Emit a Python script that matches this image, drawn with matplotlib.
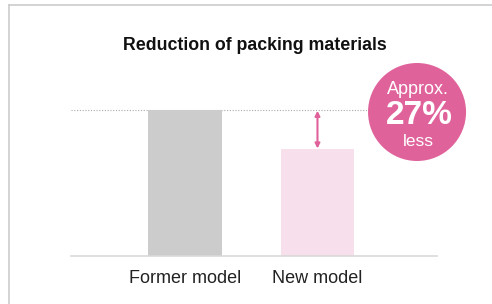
import numpy as np
import matplotlib
matplotlib.use("Agg")
import matplotlib.pyplot as plt
from matplotlib.patches import Ellipse
from matplotlib.lines import Line2D

plt.rcParams['font.family'] = ['Liberation Sans', 'DejaVu Sans']

# === DATA ===
models = ["Former model", "New model"]
amounts = [100, 73]
reduction_pct = 27
bar_colors = ["#cccccc", "#f8dfec"]
PINK = "#e0629b"

fig = plt.figure(figsize=(4.92, 3.04), dpi=100)
W, H = 492, 304

# outer frame (only left + top are visible)
fig.add_artist(Line2D([8.5 / W, 8.5 / W], [0, 1 - 4.5 / H], transform=fig.transFigure,
                      color="#cccccc", linewidth=1.2))
fig.add_artist(Line2D([8.5 / W, 1], [1 - 4.5 / H, 1 - 4.5 / H], transform=fig.transFigure,
                      color="#cccccc", linewidth=1.2))

# axes: x pixels 71..437, baseline at y=255.5
ax = fig.add_axes([71 / W, (H - 255.5) / H, (437 - 71) / W, (255.5 - 60) / H])
ymax = 100 * (255.5 - 60) / (255.5 - 110)
ax.set_ylim(0, ymax)
ax.set_xlim(-0.86, 1.902)

x = np.arange(len(models))
ax.bar(x, amounts, width=0.558, color=bar_colors, zorder=2)

# reference dotted line at former level
ax.plot([-0.86, 1.4], [amounts[0], amounts[0]], linestyle=(0, (1, 1.5)), color="#aaaaaa",
        linewidth=0.8, zorder=1)

# double-headed arrow
ax.annotate("", xy=(x[1], amounts[1] + 0.5), xytext=(x[1], amounts[0] - 0.5),
            arrowprops=dict(arrowstyle="<|-|>", color=PINK, lw=1.5,
                            mutation_scale=7, shrinkA=0, shrinkB=0))

# badge circle
r_px = 49
cx = -0.86 + (417 - 71) / 132.5
cy = (255.5 - 112) / (255.5 - 110) * 100
ax.add_patch(Ellipse((cx, cy), 2 * r_px / 132.5, 2 * r_px / 145.5 * 100,
                     facecolor=PINK, edgecolor="none", clip_on=False, zorder=3))
px2y = 100 / 145.5
ax.text(cx + 1 / 132.5, cy + 22 * px2y, "Approx.", color="white", fontsize=13,
        ha="center", va="center", zorder=4)
ax.text(cx + 2 / 132.5, cy - 4 * px2y, f"{reduction_pct}%", color="white", fontsize=24,
        fontweight="bold", ha="center", va="center", zorder=4)
ax.text(cx + 1 / 132.5, cy - 29 * px2y, "less", color="white", fontsize=12.5,
        ha="center", va="center", zorder=4)

ax.set_xticks(x)
ax.set_xticklabels(models, fontsize=13, color="#222222")
ax.tick_params(axis="x", length=0, pad=10.5)
ax.set_yticks([])
for s in ["left", "right", "top"]:
    ax.spines[s].set_visible(False)
ax.spines["bottom"].set_color("#d9d9d9")
ax.spines["bottom"].set_linewidth(1.2)
ax.patch.set_alpha(0)

fig.text(254.5 / W, 1 - 45 / H, "Reduction of packing materials", fontsize=12.8,
         fontweight="bold", ha="center", va="center", color="#111111")

fig.savefig("out.png", dpi=100, facecolor="white")
